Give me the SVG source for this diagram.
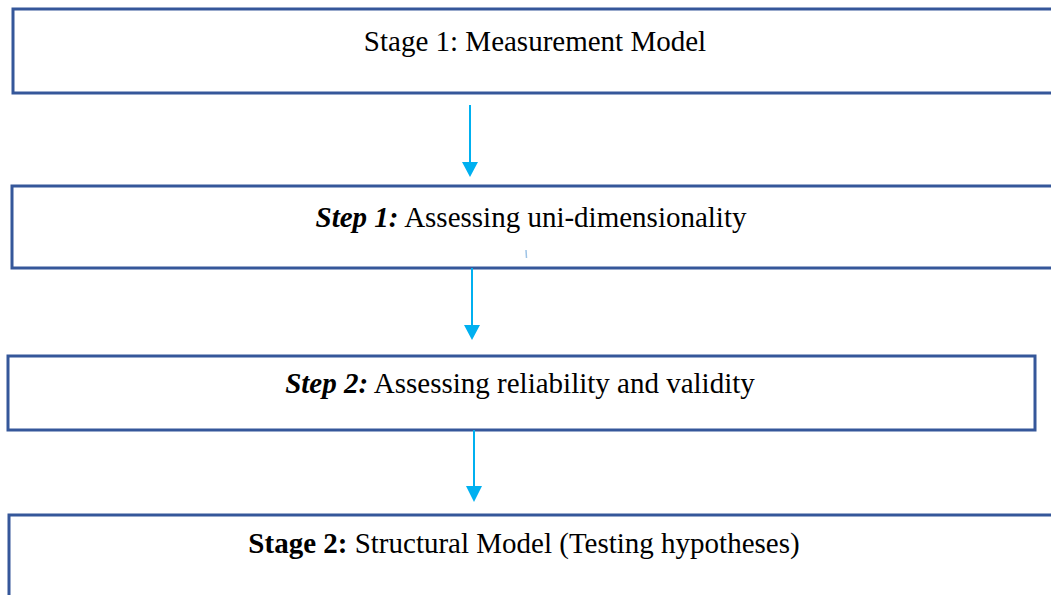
<svg xmlns="http://www.w3.org/2000/svg" width="1051" height="595" viewBox="0 0 1051 595">
  <style>
    .box { fill: #ffffff; stroke: #35579A; stroke-width: 3; }
    .t { font-family: "Liberation Serif", "Times New Roman", serif; font-size: 29px; fill: #000; text-anchor: middle; }
    .bi { font-weight: bold; font-style: italic; }
    .b { font-weight: bold; }
    .conn { stroke: #00B0F0; stroke-width: 2; fill: none; }
  </style>
  <rect width="1051" height="595" fill="#ffffff"/>
  <g id="node-stage1">
    <rect class="box" x="13" y="9" width="1060" height="84"/>
    <text class="t" x="535" y="51">Stage 1: Measurement Model</text>
  </g>
  <g id="node-step1">
    <rect class="box" x="12" y="186" width="1060" height="82"/>
    <text class="t" x="531" y="227"><tspan class="bi">Step 1:</tspan> Assessing uni-dimensionality</text>
    <line x1="526" y1="250" x2="526.5" y2="258" stroke="#9DC3E6" stroke-width="1.5"/>
  </g>
  <g id="node-step2">
    <rect class="box" x="8" y="356" width="1027" height="74"/>
    <text class="t" x="520" y="393"><tspan class="bi">Step 2:</tspan> Assessing reliability and validity</text>
  </g>
  <g id="node-stage2">
    <rect class="box" x="9" y="515" width="1070" height="100"/>
    <text class="t" x="524" y="553"><tspan class="b">Stage 2:</tspan> Structural Model (Testing hypotheses)</text>
  </g>
  <g id="connectors">
    <line class="conn" x1="470" y1="105" x2="470" y2="163"/>
    <path d="M462,162 L478,162 L470,177 Z" fill="#00B0F0"/>
    <line class="conn" x1="472" y1="268" x2="472" y2="326"/>
    <path d="M464,325 L480,325 L472,340 Z" fill="#00B0F0"/>
    <line class="conn" x1="474" y1="430" x2="474" y2="487"/>
    <path d="M466,486 L482,486 L474,502 Z" fill="#00B0F0"/>
  </g>
</svg>
